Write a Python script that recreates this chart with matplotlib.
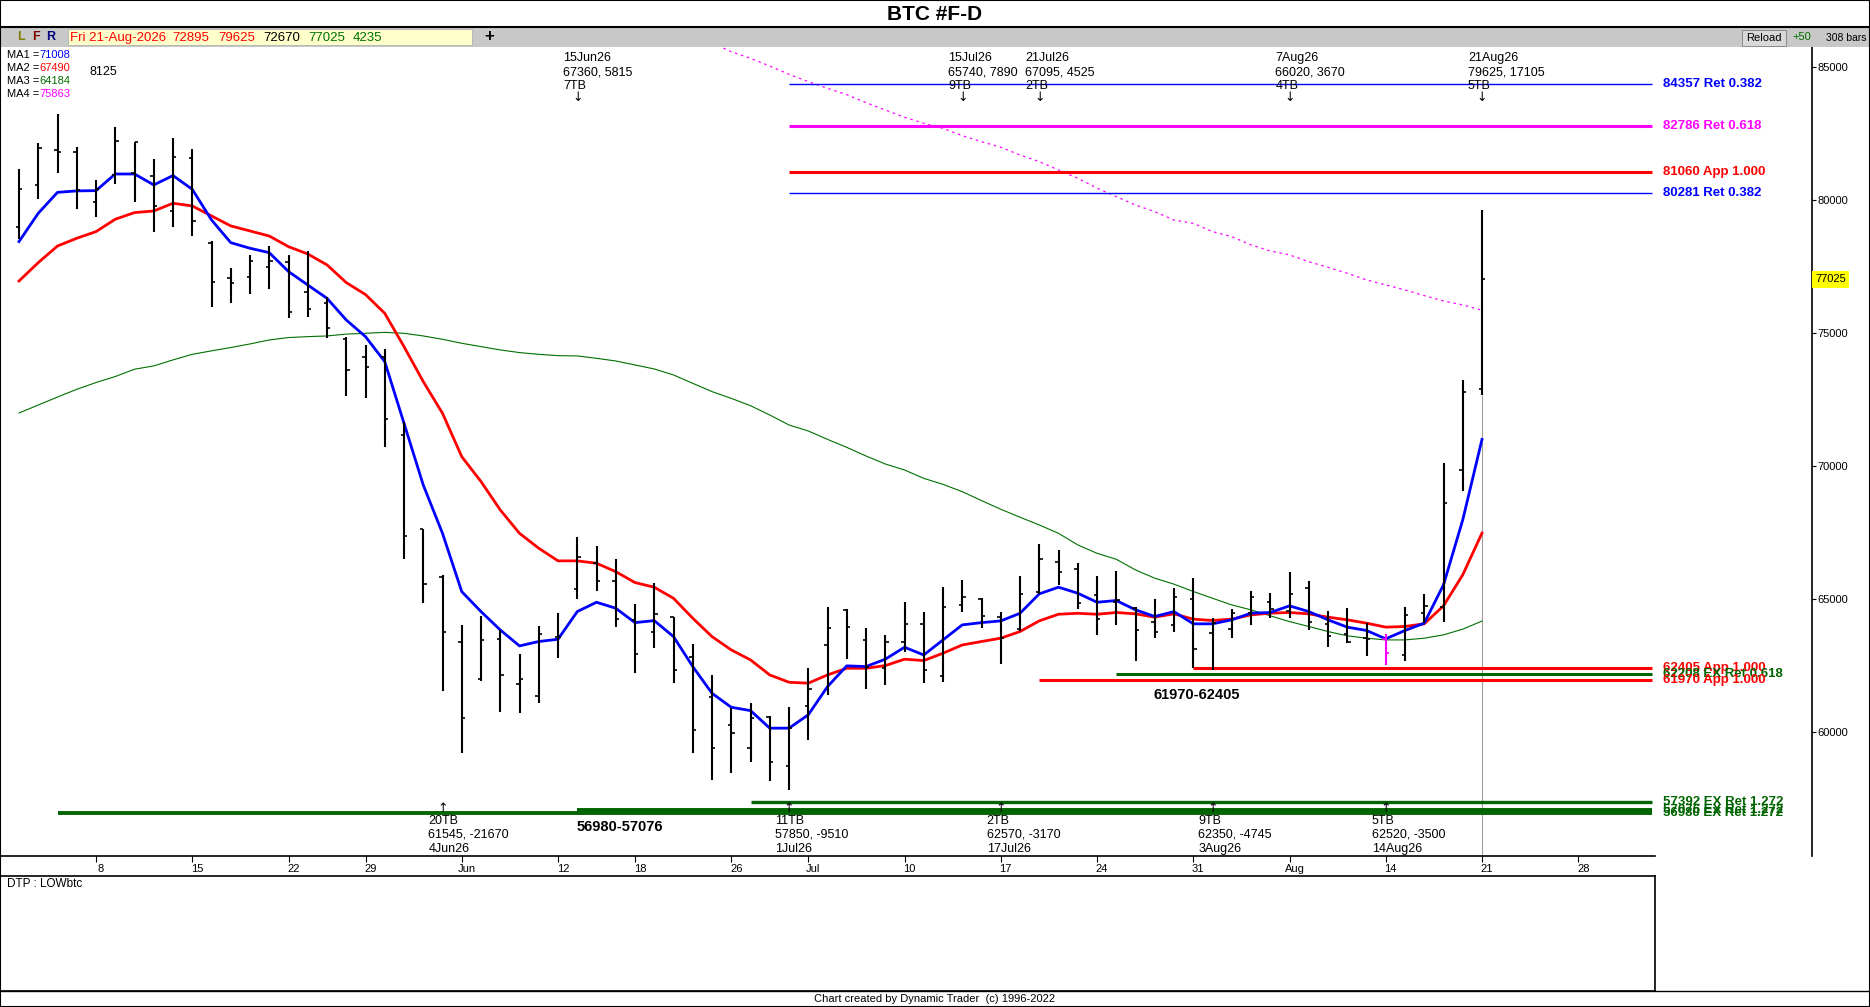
import matplotlib
matplotlib.use('Agg')
import matplotlib.pyplot as plt
import matplotlib.transforms as mtransforms
from matplotlib.patches import Rectangle
from matplotlib.lines import Line2D

plt.rcParams['font.family'] = ['Liberation Sans', 'DejaVu Sans']
NARROW = ['Liberation Sans Narrow', 'Liberation Sans', 'DejaVu Sans']

# ---- data (daily bars, 4 May 2026 .. 21 Aug 2026) ----
opens = [78980, 80580, 81880, 81795, 79940, 80945, 81005, 80905, 79605, 81595,
         78380, 77085, 77125, 77500, 77690, 76535, 76150, 74770, 74120, 74095,
         71175, 67655, 65850, 63415, 62010, 63500, 61825, 61370, 63600, 65405,
         66380, 65690, 64225, 63790, 64330, 62825, 61320, 60285, 59430, 60595,
         58745, 60995, 63285, 64600, 63475, 62410, 63415, 64075, 62135, 64790,
         65015, 64350, 63900, 65290, 66415, 66130, 65165, 64915, 64665, 64165,
         64040, 65005, 63730, 63880, 64505, 64915, 64580, 65420, 64080, 63705,
         63540, 63500, 62890, 64505, 64730, 69860, 72895]
highs = [81170, 82130, 83235, 81985, 80755, 82735, 82195, 81530, 82320, 81905,
         78480, 77440, 77940, 78275, 77940, 78075, 76375, 74845, 74555, 74395,
         71675, 67655, 65905, 64040, 64375, 63850, 62950, 64000, 64475, 67360,
         67005, 66530, 64830, 65605, 64330, 63325, 62160, 60910, 61095, 60620,
         60945, 62410, 64725, 64625, 63915, 63650, 64890, 64540, 65455, 65740,
         65065, 64515, 65880, 67095, 66855, 66380, 65880, 66070, 64705, 65005,
         65420, 65795, 64290, 64630, 65295, 65255, 66020, 65670, 64580, 64665,
         64105, 63690, 64730, 65195, 70115, 73245, 79625]
lows = [78540, 80030, 81005, 79655, 79380, 80595, 79940, 78815, 78980, 78665,
        76000, 76125, 76460, 76650, 75585, 75620, 74810, 72655, 72580, 70735,
        66505, 64880, 61545, 59245, 61935, 60785, 60745, 61120, 62810, 65030,
        65330, 63975, 62225, 63190, 61875, 59220, 58200, 58465, 58905, 58190,
        57850, 59720, 61410, 62750, 61620, 61775, 63035, 61850, 61910, 64540,
        63915, 62570, 63825, 65190, 65540, 64625, 63665, 64040, 62665, 63540,
        63755, 62405, 62350, 63540, 64040, 64290, 64290, 63830, 63225, 63350,
        62875, 62520, 62700, 64105, 64165, 69085, 72670]
closes = [80430, 81970, 81795, 80395, 80430, 82235, 82170, 79780, 81630, 79230,
          76935, 76875, 77725, 77725, 75810, 75925, 75210, 73620, 73740, 71765,
          67395, 65590, 63790, 60535, 63475, 62160, 62010, 63690, 63600, 66605,
          65690, 64265, 62950, 64465, 62350, 60095, 59425, 59995, 60560, 58905,
          60160, 61635, 63915, 63975, 62450, 63415, 64075, 62350, 64725, 65105,
          64390, 63540, 65190, 66530, 66015, 64875, 64250, 64980, 63855, 63790,
          65105, 63140, 64105, 64505, 65105, 64630, 65195, 64130, 63605, 63415,
          63515, 63000, 64415, 64755, 68610, 72790, 77025]

ma1 = [78440, 79505, 80290, 80345, 80355, 80980, 80980, 80570, 80920, 80405,
       79255, 78400, 78190, 78025, 77315, 76810, 76310, 75495, 74870, 73930,
       71615, 69295, 67480, 65290, 64540, 63850, 63250, 63415, 63500, 64540,
       64890, 64665, 64125, 64200, 63600, 62475, 61470, 60945, 60820, 60160,
       60160, 60660, 61720, 62500, 62475, 62750, 63200, 62910, 63475, 64040,
       64125, 64190, 64475, 65205, 65455, 65230, 64890, 64955, 64605, 64355,
       64540, 64080, 64080, 64230, 64480, 64505, 64755, 64540, 64230, 63955,
       63830, 63515, 63830, 64105, 65545, 67985, 71008]
ma2 = [76960, 77650, 78275, 78565, 78815, 79280, 79530, 79590, 79880, 79780,
       79405, 79030, 78840, 78650, 78250, 77975, 77565, 76900, 76450, 75745,
       74495, 73180, 71990, 70360, 69425, 68360, 67480, 66920, 66445, 66445,
       66355, 66040, 65630, 65455, 65040, 64290, 63600, 63100, 62725, 62160,
       61885, 61850, 62160, 62410, 62410, 62510, 62750, 62700, 62975, 63285,
       63415, 63540, 63790, 64190, 64440, 64475, 64440, 64505, 64455, 64330,
       64455, 64255, 64205, 64255, 64415, 64480, 64505, 64455, 64330, 64230,
       64105, 63955, 63980, 64080, 64755, 65920, 67490]
ma3 = [72000, 72300, 72600, 72890, 73145, 73370, 73645, 73770, 73995, 74205,
       74335, 74460, 74595, 74745, 74835, 74870, 74895, 74965, 74995, 75030,
       74995, 74895, 74770, 74620, 74495, 74370, 74270, 74205, 74155, 74145,
       74055, 73955, 73805, 73655, 73430, 73115, 72805, 72550, 72275, 71925,
       71550, 71325, 71010, 70710, 70385, 70085, 69860, 69545, 69320, 69045,
       68710, 68385, 68085, 67795, 67480, 67045, 66730, 66505, 66105, 65795,
       65570, 65295, 65040, 64790, 64605, 64380, 64165, 63980, 63790, 63630,
       63540, 63475, 63475, 63540, 63665, 63880, 64184]
ma4_start = 37
ma4 = [85900, 85575, 85325, 85035, 84725, 84450, 84200, 83960, 83660, 83385,
       83110, 82885, 82695, 82420, 82195, 81985, 81695, 81445, 81130, 80820,
       80450, 80130, 79815, 79565, 79250, 79125, 78815, 78625, 78315, 78090,
       77940, 77685, 77475, 77250, 77000, 76810, 76625, 76410, 76210, 76060,
       75863]
highlight_bar = 72

date_tick_bars = [5, 10, 15, 19, 24, 29, 33, 38, 42, 47, 52, 57, 62, 67, 72, 77, 82]
date_tick_labels = ['8', '15', '22', '29', 'Jun', '12', '18', '26', 'Jul', '10',
                    '17', '24', '31', 'Aug', '14', '21', '28']
price_ticks = [85000, 80000, 75000, 70000, 65000, 60000]

# price levels: value, first bar, label
level_prices = [84357, 82786, 81060, 80281, 62405, 62208, 61970, 57392, 57076, 56980]
level_starts = [41, 41, 41, 41, 62, 58, 54, 39, 30, 3]
level_labels = ['84357 Ret 0.382', '82786 Ret 0.618', '81060 App 1.000',
                '80281 Ret 0.382', '62405 App 1.000', '62208 EX Ret 0.618',
                '61970 App 1.000', '57392 EX Ret 1.272', '57076 EX Ret 1.272',
                '56980 EX Ret 1.272']
level_colors = ['#0000FF', '#FF00FF', '#FF0000', '#0000FF', '#FF0000', '#006400',
                '#FF0000', '#006400', '#006400', '#006400']
level_widths = [1.0, 2.2, 2.2, 1.0, 2.2, 2.2, 2.2, 2.4, 2.8, 2.8]

top_bars = [30, 50, 54, 67, 77]
top_dates = ['15Jun26', '15Jul26', '21Jul26', '7Aug26', '21Aug26']
top_values = ['67360, 5815', '65740, 7890', '67095, 4525', '66020, 3670', '79625, 17105']
top_tb = ['7TB', '9TB', '2TB', '4TB', '5TB']

bot_bars = [23, 41, 52, 63, 72]
bot_dates = ['4Jun26', '1Jul26', '17Jul26', '3Aug26', '14Aug26']
bot_values = ['61545, -21670', '57850, -9510', '62570, -3170', '62350, -4745', '62520, -3500']
bot_tb = ['20TB', '11TB', '2TB', '9TB', '5TB']

ma_names = ['MA1', 'MA2', 'MA3', 'MA4']
ma_last = ['71008', '67490', '64184', '75863']
ma_colors = ['#0000FF', '#FF0000', '#007000', '#FF00FF']

# ---- figure ----
W, H = 1870, 1007
fig = plt.figure(figsize=(W / 100, H / 100), dpi=100)


def fx(x):
    return x / W


def fy(y):
    return 1 - y / H


# title strip and toolbar
fig.text(fx(935), fy(14), 'BTC #F-D', ha='center', va='center', fontsize=15, fontweight='bold')
fig.add_artist(Line2D([0, 1], [fy(27), fy(27)], color='black', lw=1.5))
fig.add_artist(Rectangle((0, fy(47)), 1, fy(28) - fy(47), facecolor='#C8C8C8', edgecolor='none'))
fig.add_artist(Rectangle((fx(68), fy(45)), fx(472) - fx(68), fy(29) - fy(45),
                         facecolor='#FFFFCC', edgecolor='#B0B0B0', lw=0.6))
for s, x, c in zip(['L', 'F', 'R'], [17, 32, 46], ['#808000', '#800000', '#000080']):
    fig.text(fx(x), fy(37.5), s, fontsize=9, fontweight='bold', color=c, va='center')
header = ['Fri 21-Aug-2026', '72895', '79625', '72670', '77025', '4235']
header_x = [70, 172, 218, 263, 308, 353]
header_c = ['#FF0000', '#FF0000', '#FF0000', 'black', '#007000', '#007000']
for s, x, c in zip(header, header_x, header_c):
    fig.text(fx(x), fy(38), s, fontsize=9.5, color=c, va='center', family=NARROW)
fig.text(fx(489), fy(37), '+', fontsize=12, fontweight='bold', va='center', ha='center')
fig.add_artist(Rectangle((fx(1742), fy(46)), fx(1786) - fx(1742), fy(30) - fy(46),
                         facecolor='#D8D8D8', edgecolor='#808080', lw=0.6))
fig.text(fx(1746), fy(38), 'Reload', fontsize=8, va='center', family=NARROW)
fig.text(fx(1792), fy(37), '+50', fontsize=8, va='center', color='#007000', family=NARROW)
fig.text(fx(1826), fy(38), '308 bars', fontsize=7.5, va='center', family=NARROW)

# ---- price panel ----
px_per_bar = 19.25
x_left = 1 - 19 / px_per_bar
x_right = 1 + (1812 - 19) / px_per_bar
x_axis_end = 1 + (1655 - 19) / px_per_bar
y_top, y_bot = 85751, 55357

ax = fig.add_axes([0, fy(856), fx(1812), fy(47) - fy(856)])
ax.set_xlim(x_left, x_right)
ax.set_ylim(y_bot, y_top)
ax.spines['top'].set_visible(False)
ax.spines['bottom'].set_bounds(x_left, x_axis_end)
ax.spines['right'].set_linewidth(1.2)
ax.spines['bottom'].set_linewidth(1.2)
ax.spines['left'].set_linewidth(1.2)

ax.yaxis.tick_right()
ax.set_yticks(price_ticks)
ax.set_yticklabels([str(p) for p in price_ticks], fontsize=8)
ax.tick_params(axis='y', direction='out', length=3, pad=1)
ax.set_xticks(date_tick_bars)
ax.set_xticklabels(date_tick_labels, fontsize=8, family=NARROW)
ax.tick_params(axis='x', direction='out', length=4, pad=2)
offset = mtransforms.ScaledTranslation(5 / 100, 0, fig.dpi_scale_trans)
for lab in ax.get_xticklabels():
    lab.set_transform(lab.get_transform() + offset)

bars = list(range(1, len(closes) + 1))

# vertical marker on the last bar
ax.vlines(bars[-1], y_bot, lows[-1], color='#A0A0A0', lw=0.8, zorder=1)

# moving averages
ax.plot(bars[ma4_start - 1:], ma4, color='#FF00FF', lw=0.9, ls=(0, (2, 3)), zorder=2)
ax.plot(bars, ma3, color='#007000', lw=0.8, zorder=2)
ax.plot(bars, ma2, color='#FF0000', lw=2.0, zorder=3)
ax.plot(bars, ma1, color='#0000FF', lw=2.0, zorder=3)

# OHLC bars
tw = 0.17
for b, o, h, l, c in zip(bars, opens, highs, lows, closes):
    col = '#FF00FF' if b == highlight_bar else 'black'
    ax.vlines(b, l, h, color=col, lw=1.5, zorder=4)
    ax.hlines(o, b - tw, b, color=col, lw=1.2, zorder=4)
    ax.hlines(c, b, b + tw, color=col, lw=1.2, zorder=4)

# price levels
label_x = 1 + (1663 - 19) / px_per_bar
for p, s, lab, col, lw in zip(level_prices, level_starts, level_labels, level_colors, level_widths):
    ax.hlines(p, s, x_axis_end - 0.15, color=col, lw=lw, zorder=3)
    ax.text(label_x, p, lab, color=col, fontsize=9.5, fontweight='bold', va='center',
            ha='left', family=NARROW, zorder=5)

ax.text(1 + (1154 - 19) / px_per_bar, 61420, '61970-62405', fontsize=10.5, fontweight='bold',
        family=NARROW, va='center')
ax.text(1 + (577 - 19) / px_per_bar, 56460, '56980-57076', fontsize=10.5, fontweight='bold',
        family=NARROW, va='center')

# time band notes
for b, d, v, t in zip(top_bars, top_dates, top_values, top_tb):
    x0 = b - 14 / px_per_bar
    ax.text(x0, 85330, d, fontsize=9, va='center', ha='left')
    ax.text(x0, 84800, v, fontsize=9, va='center', ha='left')
    ax.text(x0, 84280, t, fontsize=9, va='center', ha='left')
    ax.text(b, 83850, '\u2193', fontsize=9, va='center', ha='center', family=['DejaVu Sans'])
for b, d, v, t in zip(bot_bars, bot_dates, bot_values, bot_tb):
    x0 = b - 14 / px_per_bar
    ax.text(b, 57130, '\u2191', fontsize=9, va='center', ha='center', family=['DejaVu Sans'])
    ax.text(x0, 56680, t, fontsize=9, va='center', ha='left')
    ax.text(x0, 56150, v, fontsize=9, va='center', ha='left')
    ax.text(x0, 55620, d, fontsize=9, va='center', ha='left')

# MA readout
for i, (n, v, c) in enumerate(zip(ma_names, ma_last, ma_colors)):
    yy = 55 + i * 13
    fig.text(fx(7), fy(yy), n + ' =', fontsize=8, va='center', family=NARROW)
    fig.text(fx(39), fy(yy), v, fontsize=8, va='center', color=c, family=NARROW)
fig.text(fx(90), fy(72), '8125', fontsize=9, va='center')

# last close box on the price scale
ax.annotate(str(closes[-1]), xy=(1, closes[-1]), xycoords=('axes fraction', 'data'),
            xytext=(3, 0), textcoords='offset pixels', fontsize=8, va='center', ha='left',
            bbox=dict(boxstyle='square,pad=0.3', facecolor='#FFFF00', edgecolor='none'),
            annotation_clip=False, zorder=6)

# ---- lower indicator panel ----
ax2 = fig.add_axes([0, fy(991), fx(1655), fy(876) - fy(991)])
ax2.set_xticks([])
ax2.set_yticks([])
for sp in ax2.spines.values():
    sp.set_linewidth(1.2)
ax2.text(0.004, 0.93, 'DTP : LOWbtc', transform=ax2.transAxes, fontsize=8.5,
         va='center', family=NARROW)

fig.add_artist(Line2D([0, 1], [fy(991), fy(991)], color='black', lw=1.0))
fig.text(0.5, fy(999), 'Chart created by Dynamic Trader  (c) 1996-2022', ha='center',
         va='center', fontsize=8, family=NARROW)
fig.add_artist(Rectangle((0, 0), 1, 1, fill=False, edgecolor='black', lw=1.5))

fig.savefig('out.png', dpi=100)
